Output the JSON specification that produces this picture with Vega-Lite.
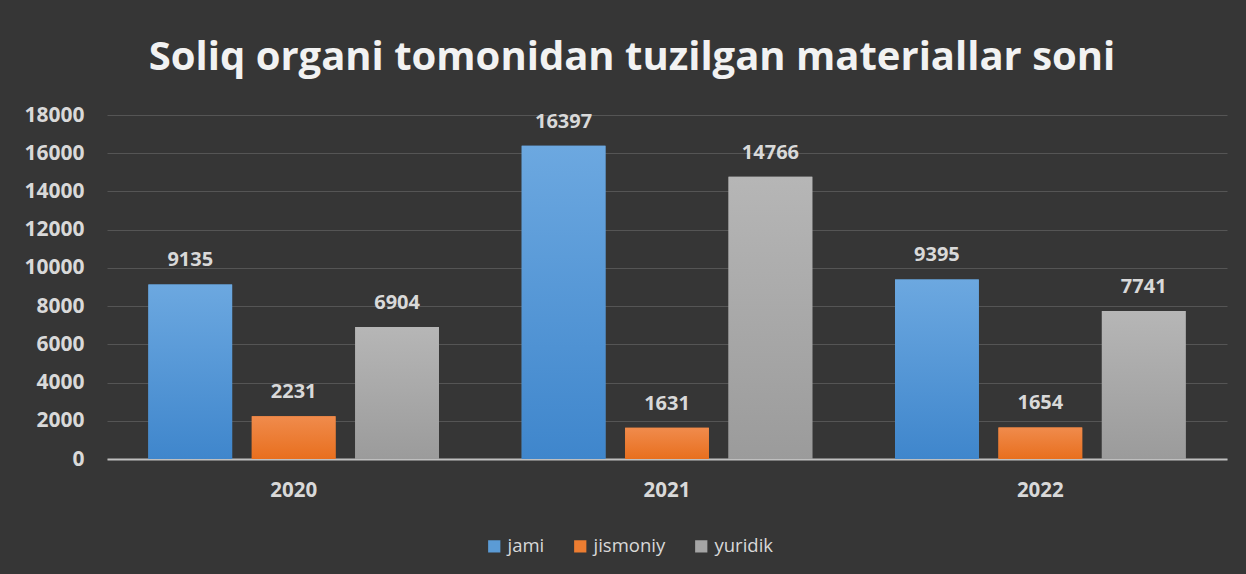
{
  "$schema": "https://vega.github.io/schema/vega-lite/v6.json",
  "width": 1120,
  "height": 344,
  "autosize": {"type": "none"},
  "padding": {"left": 107, "top": 115, "right": 19, "bottom": 115},
  "background": "#363636",
  "title": {
    "text": "Soliq organi tomonidan tuzilgan materiallar soni",
    "font": "Open Sans",
    "fontWeight": "bold",
    "fontSize": 40,
    "color": "#f2f2f2",
    "anchor": "middle",
    "offset": 26,
    "dx": -35
  },
  "data": {
    "values": [
      {"year": "2020", "series": "jami", "value": 9135},
      {"year": "2020", "series": "jismoniy", "value": 2231},
      {"year": "2020", "series": "yuridik", "value": 6904},
      {"year": "2021", "series": "jami", "value": 16397},
      {"year": "2021", "series": "jismoniy", "value": 1631},
      {"year": "2021", "series": "yuridik", "value": 14766},
      {"year": "2022", "series": "jami", "value": 9395},
      {"year": "2022", "series": "jismoniy", "value": 1654},
      {"year": "2022", "series": "yuridik", "value": 7741}
    ]
  },
  "encoding": {
    "x": {
      "field": "year", "type": "nominal",
      "scale": {"paddingInner": 0, "paddingOuter": 0},
      "axis": {
        "title": null, "labelAngle": 0, "ticks": false,
        "domainColor": "#bfbfbf", "domainWidth": 2,
        "labelFont": "Open Sans", "labelFontWeight": "bold", "labelFontSize": 20.5,
        "labelColor": "#d9d9d9", "labelPadding": 21
      }
    },
    "xOffset": {
      "field": "series", "type": "nominal",
      "scale": {"paddingInner": 0.19, "paddingOuter": 0.4}
    },
    "y": {
      "field": "value", "type": "quantitative",
      "scale": {"domain": [0, 18000], "nice": false},
      "axis": {
        "title": null, "values": [0,2000,4000,6000,8000,10000,12000,14000,16000,18000],
        "labelOverlap": false,
        "domain": false, "ticks": false, "format": "d",
        "gridColor": "#555555", "gridWidth": 1,
        "labelFont": "Open Sans", "labelFontWeight": "bold", "labelFontSize": 21,
        "labelColor": "#d9d9d9", "labelPadding": 23
      }
    }
  },
  "layer": [
    {
      "mark": {"type": "bar"},
      "encoding": {
        "color": {
          "field": "series", "type": "nominal",
          "scale": {"domain": ["jami", "jismoniy", "yuridik"], "range": ["#5b9bd5", "#ed7d31", "#a5a5a5"]},
          "legend": {
            "title": null, "orient": "none", "direction": "horizontal",
            "legendX": 378, "legendY": 422,
            "symbolType": "square", "symbolSize": 150, "symbolStrokeWidth": 0,
            "labelFont": "Open Sans", "labelFontSize": 18.5, "labelColor": "#d9d9d9",
            "columnPadding": 26, "labelOffset": 4
          }
        }
      }
    },
    {
      "mark": {"type": "bar"},
      "encoding": {
        "fill": {
          "condition": [
            {"test": "datum.series === 'jami'", "value": {"gradient": "linear", "x1": 0, "y1": 0, "x2": 0, "y2": 1, "stops": [{"offset": 0, "color": "#6ca8e0"}, {"offset": 1, "color": "#3f86cc"}]}},
            {"test": "datum.series === 'jismoniy'", "value": {"gradient": "linear", "x1": 0, "y1": 0, "x2": 0, "y2": 1, "stops": [{"offset": 0, "color": "#f08b4c"}, {"offset": 1, "color": "#e86f1e"}]}}
          ],
          "value": {"gradient": "linear", "x1": 0, "y1": 0, "x2": 0, "y2": 1, "stops": [{"offset": 0, "color": "#b6b6b6"}, {"offset": 1, "color": "#9b9b9b"}]}
        }
      }
    },
    {
      "mark": {"type": "text", "baseline": "bottom", "dy": -14, "font": "Open Sans", "fontWeight": "bold", "fontSize": 20, "color": "#d9d9d9"},
      "encoding": {
        "text": {"field": "value", "type": "quantitative", "format": "d"}
      }
    }
  ],
  "config": {"view": {"stroke": null}}
}
